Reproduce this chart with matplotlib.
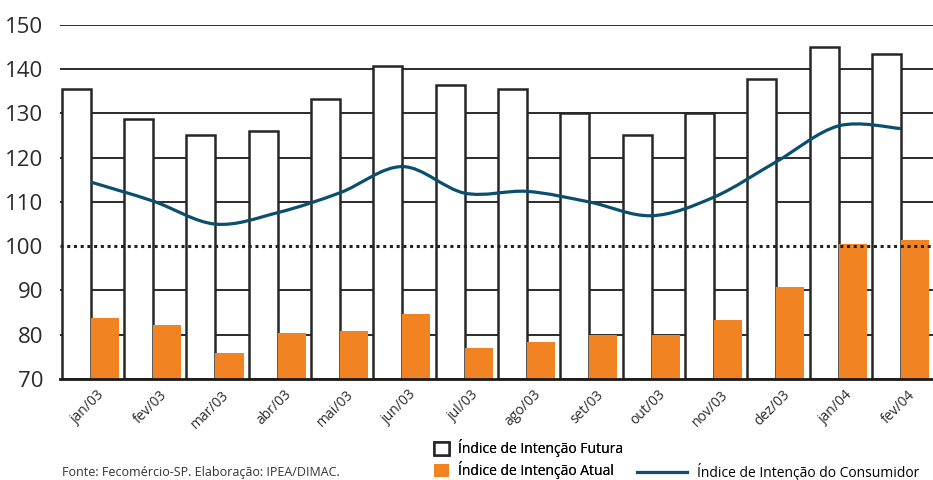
import numpy as np
import matplotlib
matplotlib.use('Agg')
import matplotlib.pyplot as plt
from matplotlib.path import Path
from matplotlib.patches import PathPatch, Patch
from matplotlib.lines import Line2D

months = ['jan/03', 'fev/03', 'mar/03', 'abr/03', 'mai/03', 'jun/03', 'jul/03',
          'ago/03', 'set/03', 'out/03', 'nov/03', 'dez/03', 'jan/04', 'fev/04']
futura = [135.5, 128.8, 125.1, 126.0, 133.3, 140.7, 136.4,
          135.5, 130.1, 125.1, 130.1, 137.8, 145.0, 143.4]
atual = [83.8, 82.2, 75.9, 80.4, 80.8, 84.7, 77.0,
         78.4, 79.9, 79.9, 83.3, 90.8, 100.5, 101.4]
consumidor = [114.5, 110.2, 105.0, 107.6, 112.1, 118.0, 112.0,
              112.4, 110.0, 106.9, 111.1, 119.1, 127.2, 126.6]
yticks = [70, 80, 90, 100, 110, 120, 130, 140, 150]

plt.rcParams['font.family'] = ['Open Sans', 'DejaVu Sans']

fig = plt.figure(figsize=(9.33, 4.8), dpi=100)
ax = fig.add_axes([60/933, 101/480, 873/933, 354/480])

x = np.arange(len(months))
bw = 0.465
edge = '#262626'
orange = '#F28322'
blue = '#0B4F6E'

# horizontal grid lines behind the bars
for v in yticks[1:]:
    if v == 100:
        continue
    ax.axhline(v, color='#1a1a1a', lw=1.3, zorder=0)

ax.bar(x, np.array(futura) - 70, bottom=70, width=bw, align='edge',
       facecolor='white', edgecolor=edge, linewidth=1.8, zorder=2)
ax.bar(x + bw, np.array(atual) - 70, bottom=70, width=0.45, align='edge',
       facecolor=orange, edgecolor='none', zorder=2)

# reference line at 100
ax.axhline(100, color='#222222', lw=2.2, ls=(0, (1, 1.2)), zorder=4)

# smooth curve through the consumer index (Catmull-Rom as cubic Bezier)
px = x + bw
py = np.array(consumidor, dtype=float)
pts = np.column_stack([px, py])
verts = [pts[0]]
codes = [Path.MOVETO]
for i in range(len(pts) - 1):
    p0 = pts[i - 1] if i > 0 else pts[i]
    p1 = pts[i]
    p2 = pts[i + 1]
    p3 = pts[i + 2] if i + 2 < len(pts) else pts[i + 1]
    c1 = p1 + (p2 - p0) / 6.0
    c2 = p2 - (p3 - p1) / 6.0
    verts += [c1, c2, p2]
    codes += [Path.CURVE4] * 3
ax.add_patch(PathPatch(Path(verts, codes), fill=False, edgecolor=blue,
                       lw=2.3, zorder=5, capstyle='butt'))

ax.set_ylim(70, 150)
ax.set_xlim(-0.03, 13.98)
ax.set_yticks(yticks)
ax.set_yticklabels([str(v) for v in yticks], fontsize=16, color='#2a2a2a')
ax.set_xticks(x + bw + 0.1)
ax.set_xticklabels(months, rotation=45, ha='right', rotation_mode='anchor',
                   fontsize=10, color='#2a2a2a')
ax.tick_params(axis='y', length=0, pad=12)
ax.tick_params(axis='x', length=0, pad=6)
for s in ['top', 'right', 'left']:
    ax.spines[s].set_visible(False)
ax.spines['bottom'].set_linewidth(2)
ax.spines['bottom'].set_color('#1a1a1a')
ax.spines['bottom'].set_zorder(6)

h1 = Patch(facecolor='white', edgecolor=edge, linewidth=1.8)
h2 = Patch(facecolor=orange, edgecolor='none')
leg1 = fig.legend([h1, h2], ['Índice de Intenção Futura', 'Índice de Intenção Atual'],
                  loc='upper left', bbox_to_anchor=(427/933, 1 - 432/480),
                  frameon=False, fontsize=10, handlelength=1.1, handleheight=1.1,
                  handletextpad=0.6, labelspacing=0.3, borderpad=0.0)
h3 = Line2D([], [], color=blue, lw=2.3)
fig.legend([h3], ['Índice de Intenção do Consumidor'],
           loc='upper left', bbox_to_anchor=(630/933, 1 - 456/480),
           frameon=False, fontsize=10, handlelength=3.6, handletextpad=0.7,
           borderpad=0.0)
fig.add_artist(leg1)

fig.text(62/933, 1 - 466/480, 'Fonte: Fecomércio-SP. Elaboração: IPEA/DIMAC.',
         fontsize=9, color='#333333', va='top')

fig.savefig('out.png', dpi=100)
